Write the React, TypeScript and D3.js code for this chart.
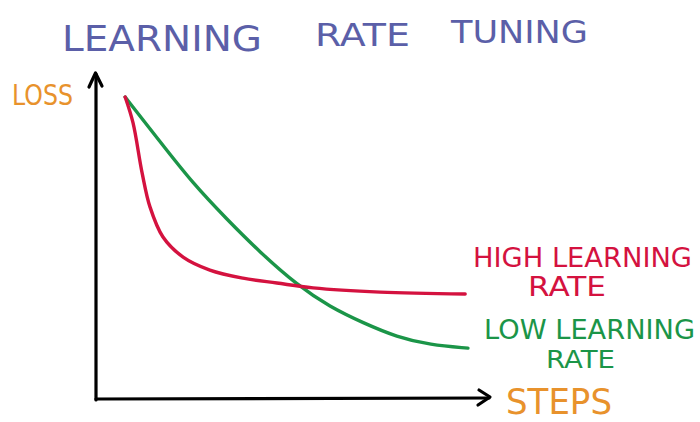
import React from "react";
import * as d3 from "d3";

const highSteps = [7.4, 9.4, 11.7, 13.7, 17.0, 22.1, 28.9, 37.3, 45.9, 55.1, 72.1, 93.7];
const highLoss = [93.2, 85.2, 69.8, 59.3, 50.0, 43.8, 39.8, 37.3, 35.8, 34.3, 33.0, 32.4];
const lowSteps = [7.4, 16.2, 24.6, 33.2, 41.6, 51.0, 59.4, 67.8, 76.4, 84.8, 94.4];
const lowLoss = [93.2, 79.5, 66.5, 55.5, 45.3, 35.2, 28.4, 23.5, 19.1, 16.7, 15.7];

const titleWords = ["LEARNING", "RATE", "TUNING"];
const yLabel = "LOSS";
const xLabel = "STEPS";
const highLabel = ["HIGH LEARNING", "RATE"];
const lowLabel = ["LOW LEARNING", "RATE"];

const W = 700;
const H = 422;
const FONT = "'DejaVu Sans', 'Noto Sans', sans-serif";

export default function App() {
  const x = d3.scaleLinear().domain([0, 100]).range([96, 490]);
  const y = d3.scaleLinear().domain([0, 100]).range([399, 75]);
  const highLine = d3
    .line<[number, number]>()
    .x((d) => x(d[0]))
    .y((d) => y(d[1]))
    .curve(d3.curveCatmullRom.alpha(0.5));
  const lowLine = d3
    .line<[number, number]>()
    .x((d) => x(d[0]))
    .y((d) => y(d[1]))
    .curve(d3.curveBasis);
  const high = highSteps.map((s, i) => [s, highLoss[i]] as [number, number]);
  const low = lowSteps.map((s, i) => [s, lowLoss[i]] as [number, number]);

  const x0 = x(0), y0 = y(0), xEnd = x(100), yEnd = y(100);

  const titlePos = [
    { x: 62, b: 51, len: 200, size: 36 },
    { x: 315, b: 46, len: 95, size: 32 },
    { x: 451, b: 43, len: 137, size: 32 },
  ];

  return (
    <svg
      width={W}
      height={H}
      style={{ position: "absolute", left: 0, top: 0, background: "#fff" }}
    >
      <rect width={W} height={H} fill="#fff" />
      {titleWords.map((w, i) => (
        <text
          key={w}
          x={titlePos[i].x}
          y={titlePos[i].b}
          fontFamily={FONT}
          fontSize={titlePos[i].size}
          fill="#5b5fa8"
          textLength={titlePos[i].len}
          lengthAdjust="spacingAndGlyphs"
        >
          {w}
        </text>
      ))}
      {/* axes */}
      <g stroke="#000" strokeWidth={3.2} fill="none" strokeLinecap="round" strokeLinejoin="round">
        <path d={`M${x0},${y0 + 1}L${x0},${yEnd - 1}`} />
        <path d={`M${x0 - 7},${yEnd + 12}L${x0 - 0.5},${yEnd - 2}L${x0 + 6},${yEnd + 11}`} />
        <path d={`M${x0},${y0}L${xEnd - 1},${y0 - 1}`} />
        <path d={`M${xEnd - 11},${y0 - 9}L${xEnd},${y0 - 2}L${xEnd - 12},${y0 + 6}`} />
      </g>
      <path d={lowLine(low) || ""} fill="none" stroke="#1b9548" strokeWidth={3.4} strokeLinecap="round" />
      <path d={highLine(high) || ""} fill="none" stroke="#d4123f" strokeWidth={3.4} strokeLinecap="round" />
      <text x={12} y={105} fontFamily={FONT} fontSize={28} fill="#e8922c" textLength={61} lengthAdjust="spacingAndGlyphs">
        {yLabel}
      </text>
      <text x={506} y={414} fontFamily={FONT} fontSize={35} fill="#e8922c" textLength={106} lengthAdjust="spacingAndGlyphs">
        {xLabel}
      </text>
      <text x={473} y={267} fontFamily={FONT} fontSize={27} fill="#d4123f" textLength={219} lengthAdjust="spacingAndGlyphs">
        {highLabel[0]}
      </text>
      <text x={528} y={296} fontFamily={FONT} fontSize={27} fill="#d4123f" textLength={78} lengthAdjust="spacingAndGlyphs">
        {highLabel[1]}
      </text>
      <text x={484} y={339} fontFamily={FONT} fontSize={26} fill="#1b9548" textLength={211} lengthAdjust="spacingAndGlyphs">
        {lowLabel[0]}
      </text>
      <text x={546} y={368} fontFamily={FONT} fontSize={25} fill="#1b9548" textLength={69} lengthAdjust="spacingAndGlyphs">
        {lowLabel[1]}
      </text>
    </svg>
  );
}
